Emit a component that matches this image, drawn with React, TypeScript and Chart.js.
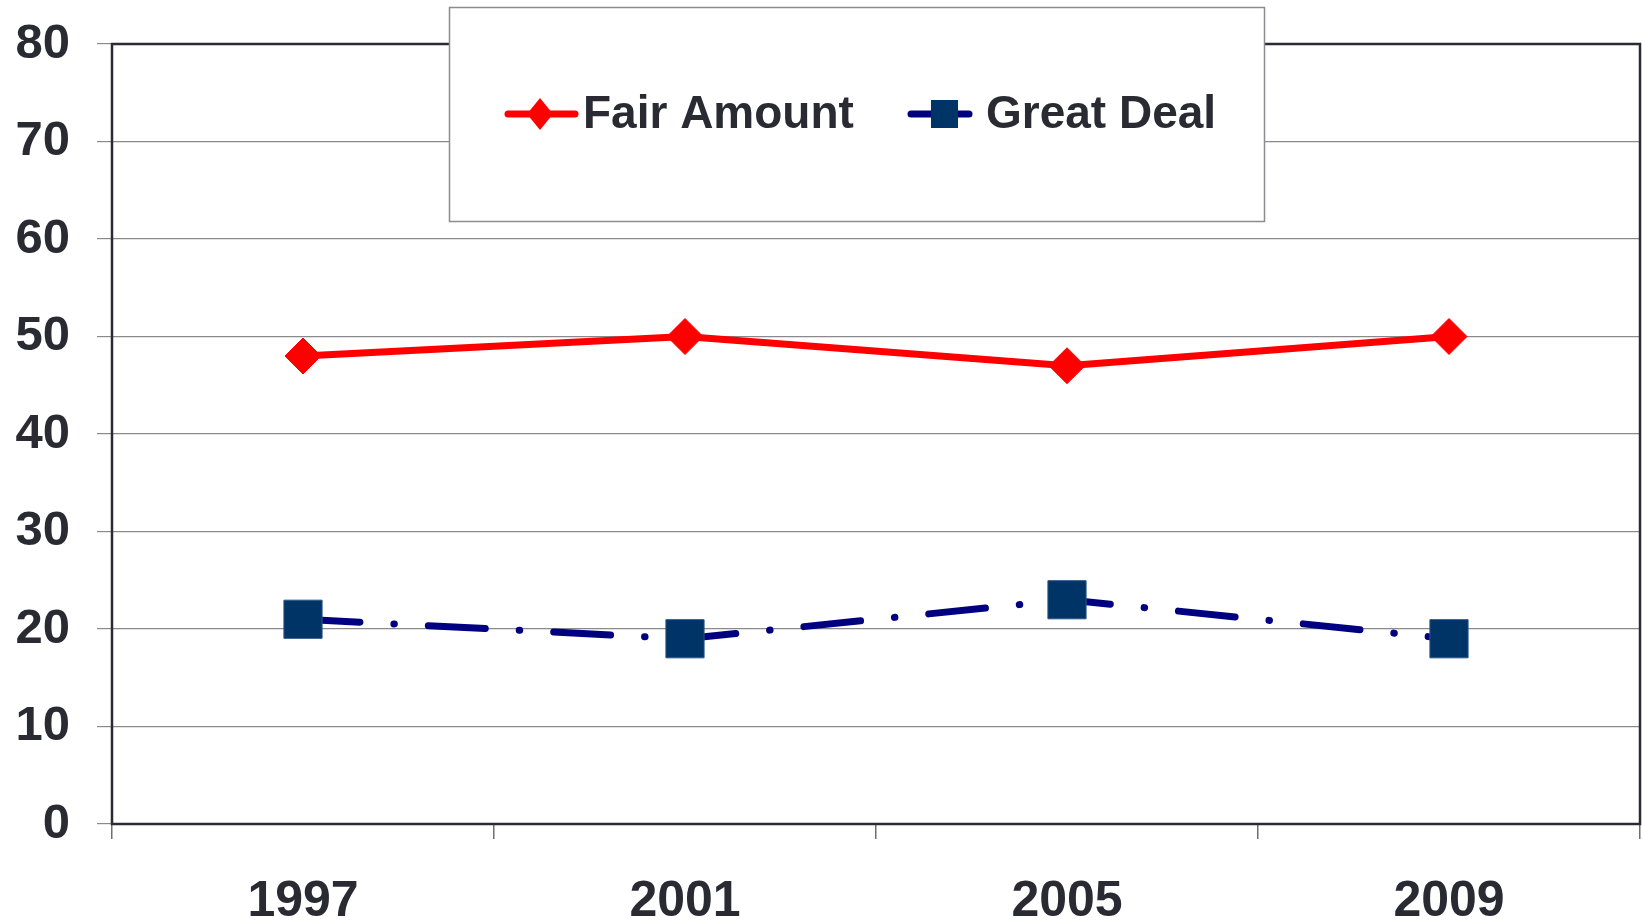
import React, { useEffect, useRef } from 'react';
import { Chart, registerables } from 'chart.js';

Chart.register(...registerables);

const years = ['1997', '2001', '2005', '2009'];
const fairAmount = [48, 50, 47, 50];
const greatDeal = [21, 19, 23, 19];
const seriesNames = ['Fair Amount', 'Great Deal'];
const yMin = 0;
const yMax = 80;
const yStep = 10;

const TEXT = '#2a2a33';
const FONT = '"Liberation Sans", Arial, Helvetica, sans-serif';
const RED = '#ff0000';
const NAVY = '#000080';
const SQUARE = '#003366';

const framePlugin = {
  id: 'frame',
  beforeDatasetsDraw(chart: any) {
    const { ctx, chartArea: a } = chart;
    ctx.save();
    ctx.strokeStyle = '#2b2b33';
    ctx.lineWidth = 2.5;
    ctx.strokeRect(a.left, a.top, a.right - a.left, a.bottom - a.top);
    ctx.restore();
  },
};

const legendPlugin = {
  id: 'customLegend',
  afterDraw(chart: any) {
    const ctx: CanvasRenderingContext2D = chart.ctx;
    const ds = chart.data.datasets;
    ctx.save();
    const bx = 449, by = 7, bw = 815, bh = 214;
    ctx.fillStyle = '#ffffff';
    ctx.fillRect(bx, by, bw, bh);
    ctx.strokeStyle = '#8c8c90';
    ctx.lineWidth = 1.5;
    ctx.strokeRect(bx + 0.5, by + 0.5, bw, bh);

    const cy = 114;
    ctx.lineCap = 'round';
    ctx.strokeStyle = ds[0].borderColor;
    ctx.lineWidth = 7;
    ctx.beginPath();
    ctx.moveTo(508, cy);
    ctx.lineTo(575, cy);
    ctx.stroke();
    ctx.fillStyle = ds[0].pointBackgroundColor;
    ctx.beginPath();
    ctx.moveTo(540, cy - 16);
    ctx.lineTo(553, cy);
    ctx.lineTo(540, cy + 16);
    ctx.lineTo(527, cy);
    ctx.closePath();
    ctx.fill();

    ctx.strokeStyle = ds[1].borderColor;
    ctx.beginPath();
    ctx.moveTo(911, cy);
    ctx.lineTo(969, cy);
    ctx.stroke();
    ctx.fillStyle = ds[1].pointBackgroundColor;
    ctx.fillRect(931, cy - 14, 27, 28);

    ctx.fillStyle = TEXT;
    ctx.font = `bold 46px ${FONT}`;
    ctx.textBaseline = 'middle';
    ctx.textAlign = 'left';
    ctx.fillText(ds[0].label, 583, cy + 1);
    ctx.fillText(ds[1].label, 986, cy + 1);
    ctx.restore();
  },
};

function zeroPad(scale: any) {
  scale.paddingLeft = 0;
  scale.paddingRight = 0;
  scale.paddingTop = 0;
  scale.paddingBottom = 0;
}

export default function App() {
  const ref = useRef<HTMLCanvasElement | null>(null);

  useEffect(() => {
    if (!ref.current) return;
    const chart = new Chart(ref.current, {
      type: 'line',
      data: {
        labels: years,
        datasets: [
          {
            label: seriesNames[0],
            data: fairAmount,
            borderColor: RED,
            backgroundColor: RED,
            borderWidth: 7,
            pointStyle: 'rectRot',
            pointRadius: 18,
            pointBackgroundColor: RED,
            pointBorderColor: RED,
            pointBorderWidth: 1,
            tension: 0,
          },
          {
            label: seriesNames[1],
            data: greatDeal,
            borderColor: NAVY,
            backgroundColor: NAVY,
            borderWidth: 7,
            borderDash: [57, 34, 0.5, 34],
            borderCapStyle: 'round',
            pointStyle: 'rect',
            pointRadius: 27,
            pointBackgroundColor: SQUARE,
            pointBorderColor: '#2a5584',
            pointBorderWidth: 1,
            tension: 0,
          },
        ],
      },
      options: {
        responsive: false,
        animation: false,
        layout: { autoPadding: false, padding: { top: 44, right: 2, left: 0, bottom: 0 } },
        plugins: {
          legend: { display: false },
          tooltip: { enabled: false },
        },
        scales: {
          x: {
            offset: true,
            border: { display: false },
            grid: {
              offset: true,
              drawOnChartArea: false,
              drawTicks: true,
              tickLength: 15,
              color: '#6e6e74',
              lineWidth: 1.5,
            },
            ticks: {
              color: TEXT,
              font: { family: FONT, size: 50, weight: 'bold' },
              padding: 33,
              maxRotation: 0,
            },
            afterFit(scale: any) {
              scale.height = 96;
              zeroPad(scale);
            },
          },
          y: {
            min: yMin,
            max: yMax,
            border: { display: false },
            grid: {
              color: '#8a8a8e',
              lineWidth: 1.2,
              tickLength: 15,
            },
            ticks: {
              stepSize: yStep,
              color: TEXT,
              font: { family: FONT, size: 49, weight: 'bold' },
              padding: 27,
            },
            afterFit(scale: any) {
              scale.width = 112;
              zeroPad(scale);
            },
          },
        },
      },
      plugins: [framePlugin, legendPlugin],
    });
    return () => chart.destroy();
  }, []);

  return (
    <div style={{ position: 'fixed', left: 0, top: 0, width: 1642, height: 920, background: '#fff' }}>
      <canvas ref={ref} width={1642} height={920} style={{ display: 'block' }} />
    </div>
  );
}
